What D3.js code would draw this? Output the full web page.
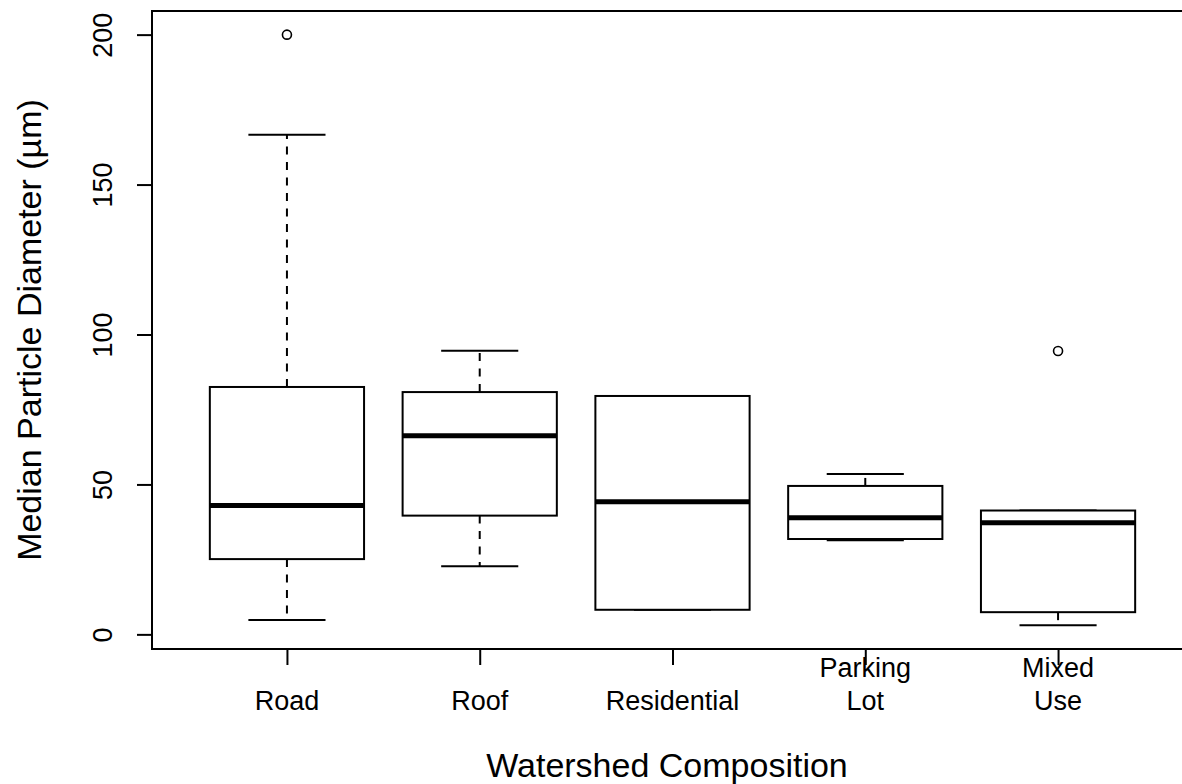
<!DOCTYPE html>
<html>
<head>
<meta charset="utf-8">
<script src="https://cdn.jsdelivr.net/npm/d3@7"></script>
<style>
  body { margin: 0; background: #fff; }
  text { font-family: "Liberation Sans", Arial, sans-serif; fill: #000; }
</style>
</head>
<body>
<script>
// Box plot data
var categories = ["Road", "Roof", "Residential", "Parking\nLot", "Mixed\nUse"];
var lowerWhisker = [4.8, 22.7, 8.2, 31.4, 3.0];
var q1 = [25.1, 39.6, 8.2, 31.8, 7.4];
var median = [43.0, 66.2, 44.2, 38.9, 37.2];
var q3 = [82.5, 80.8, 79.5, 49.5, 41.3];
var upperWhisker = [166.6, 94.6, 79.5, 53.5, 41.3];
var outliers = [[200], [], [], [], [94.5]];
var yTicks = [0, 50, 100, 150, 200];

var svgWidth = 1182;
var svgHeight = 784;

// plot region (the right edge runs past the picture)
var plot = { left: 152, right: 1193, top: 11, bottom: 649 };

var svg = d3.select("body")
  .append("svg")
  .attr("width", svgWidth)
  .attr("height", svgHeight);

var boxes = categories.map(function(c, i) {
  return {
    pos: i + 1,
    label: c,
    lo: lowerWhisker[i],
    q1: q1[i],
    med: median[i],
    q3: q3[i],
    hi: upperWhisker[i],
    out: outliers[i]
  };
});

// y range extended by 4% like R does
var allVals = [];
boxes.forEach(function(b) { allVals.push(b.lo, b.hi); b.out.forEach(function(o) { allVals.push(o); }); });
var yMin = d3.min(allVals), yMax = d3.max(allVals);
var pad = (yMax - yMin) * 0.04;

var yScale = d3.scaleLinear()
  .domain([yMin - pad, yMax + pad])
  .range([plot.bottom, plot.top]);

var n = categories.length;
var xPad = n * 0.04;
var xScale = d3.scaleLinear()
  .domain([0.5 - xPad, n + 0.5 + xPad])
  .range([plot.left, plot.right]);

var unit = xScale(2) - xScale(1);
var boxW = 0.8 * unit;
var capW = 0.4 * unit;

var g = svg.append("g");

// whiskers (dashed)
g.selectAll("line.whisk-up")
  .data(boxes)
  .enter()
  .append("line")
  .attr("x1", d => xScale(d.pos))
  .attr("x2", d => xScale(d.pos))
  .attr("y1", d => yScale(d.q3))
  .attr("y2", d => yScale(d.hi))
  .attr("stroke", "#000")
  .attr("stroke-width", 2)
  .attr("stroke-dasharray", "8,7.5");

g.selectAll("line.whisk-down")
  .data(boxes)
  .enter()
  .append("line")
  .attr("x1", d => xScale(d.pos))
  .attr("x2", d => xScale(d.pos))
  .attr("y1", d => yScale(d.q1))
  .attr("y2", d => yScale(d.lo))
  .attr("stroke", "#000")
  .attr("stroke-width", 2)
  .attr("stroke-dasharray", "8,7.5");

// staples
["hi", "lo"].forEach(function(k) {
  g.selectAll("line.cap-" + k)
    .data(boxes)
    .enter()
    .append("line")
    .attr("x1", d => xScale(d.pos) - capW / 2)
    .attr("x2", d => xScale(d.pos) + capW / 2)
    .attr("y1", d => yScale(d[k]))
    .attr("y2", d => yScale(d[k]))
    .attr("stroke", "#000")
    .attr("stroke-width", 2);
});

// boxes
g.selectAll("rect.box")
  .data(boxes)
  .enter()
  .append("rect")
  .attr("x", d => xScale(d.pos) - boxW / 2)
  .attr("width", boxW)
  .attr("y", d => yScale(d.q3))
  .attr("height", d => yScale(d.q1) - yScale(d.q3))
  .attr("fill", "#fff")
  .attr("stroke", "#000")
  .attr("stroke-width", 2);

// medians
g.selectAll("line.med")
  .data(boxes)
  .enter()
  .append("line")
  .attr("x1", d => xScale(d.pos) - boxW / 2)
  .attr("x2", d => xScale(d.pos) + boxW / 2)
  .attr("y1", d => yScale(d.med))
  .attr("y2", d => yScale(d.med))
  .attr("stroke", "#000")
  .attr("stroke-width", 5);

// outliers
var outPts = [];
boxes.forEach(function(b) { b.out.forEach(function(o) { outPts.push({ pos: b.pos, v: o }); }); });
g.selectAll("circle.out")
  .data(outPts)
  .enter()
  .append("circle")
  .attr("cx", d => xScale(d.pos))
  .attr("cy", d => yScale(d.v))
  .attr("r", 4.5)
  .attr("fill", "none")
  .attr("stroke", "#000")
  .attr("stroke-width", 1.6);

// frame
svg.append("rect")
  .attr("x", plot.left)
  .attr("y", plot.top)
  .attr("width", plot.right - plot.left)
  .attr("height", plot.bottom - plot.top)
  .attr("fill", "none")
  .attr("stroke", "#000")
  .attr("stroke-width", 2);

// y axis
var leftAxis = d3.axisLeft(yScale).tickValues(yTicks).tickSize(15).tickSizeOuter(0);
var yAxisG = svg.append("g")
  .attr("transform", `translate(${plot.left}, 0)`)
  .call(leftAxis);
yAxisG.select(".domain").remove();
yAxisG.selectAll(".tick line").attr("stroke", "#000").attr("stroke-width", 2);
yAxisG.selectAll(".tick text")
  .attr("x", 0).attr("y", 0).attr("dy", null)
  .attr("transform", "translate(-40,0) rotate(-90)")
  .attr("text-anchor", "middle")
  .style("font-size", "27px")
  .style("font-family", "'Liberation Sans', Arial, sans-serif");

// x axis
var bottomAxis = d3.axisBottom(xScale).tickValues(d3.range(1, n + 1)).tickSize(16).tickSizeOuter(0).tickFormat("");
var xAxisG = svg.append("g")
  .attr("transform", `translate(0, ${plot.bottom})`)
  .call(bottomAxis);
xAxisG.select(".domain").remove();
xAxisG.selectAll(".tick line").attr("stroke", "#000").attr("stroke-width", 2);

var xLabels = svg.append("g").selectAll("text")
  .data(boxes)
  .enter()
  .append("text")
  .attr("text-anchor", "middle")
  .style("font-size", "27px");
xLabels.each(function(d) {
  var lines = d.label.split("\n");
  var t = d3.select(this);
  lines.forEach(function(line, j) {
    t.append("tspan")
      .attr("x", xScale(d.pos))
      .attr("y", 710 - (lines.length - 1 - j) * 33)
      .text(line);
  });
});

// axis titles
svg.append("text")
  .attr("x", (plot.left + 1182) / 2 + 0)
  .attr("y", 777)
  .attr("text-anchor", "middle")
  .style("font-size", "34px")
  .text("Watershed Composition");

svg.append("text")
  .attr("transform", `translate(41, ${(plot.top + plot.bottom) / 2}) rotate(-90)`)
  .attr("text-anchor", "middle")
  .style("font-size", "34px")
  .text("Median Particle Diameter (\u00b5m)");
</script>
</body>
</html>
